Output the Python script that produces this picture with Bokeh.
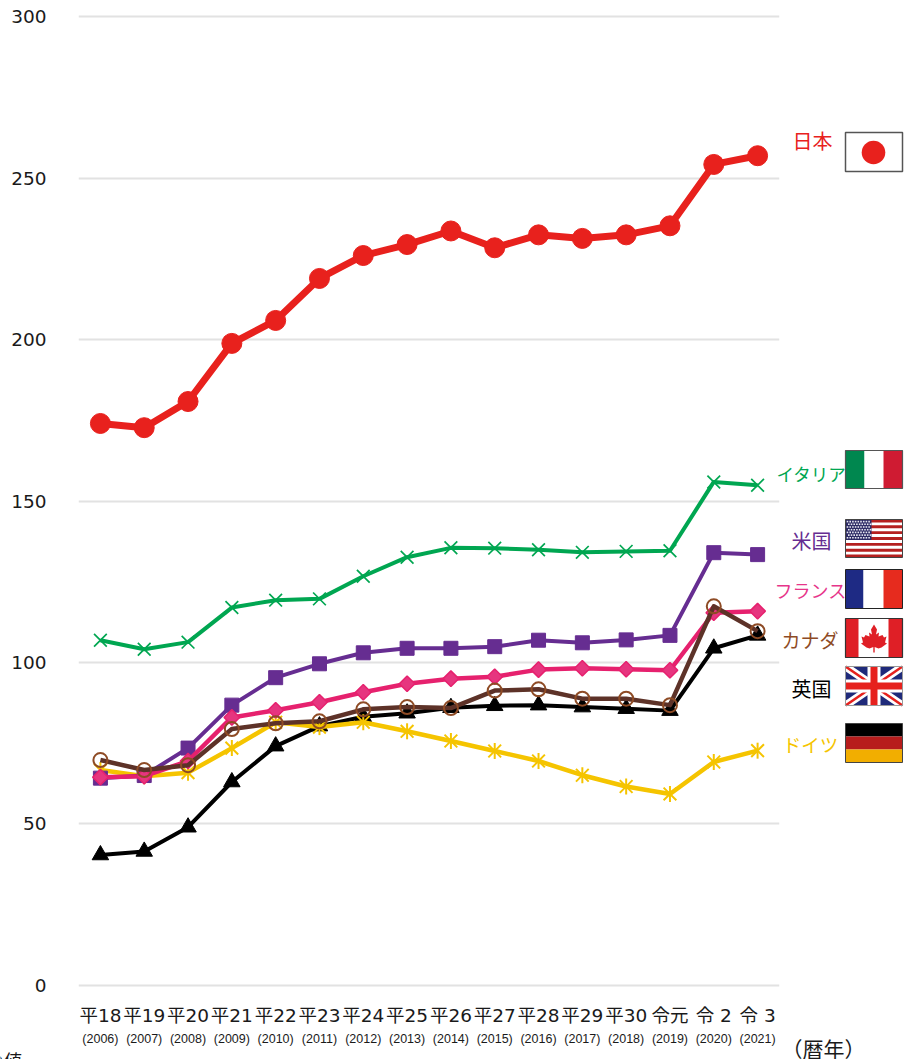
import math
from bokeh.plotting import figure
from bokeh.embed import file_html
from bokeh.resources import INLINE
from bokeh.core.properties import value
from bokeh.models import (FactorRange, Range1d, CategoricalAxis, LinearAxis, FixedTicker, Grid,
                          ColumnDataSource)

reiwa = ["平18","平19","平20","平21","平22","平23","平24","平25","平26","平27","平28","平29","平30","令元","令 2","令 3"]
years = ["(2006)","(2007)","(2008)","(2009)","(2010)","(2011)","(2012)","(2013)","(2014)","(2015)","(2016)","(2017)","(2018)","(2019)","(2020)","(2021)"]
y_ticks = [0, 50, 100, 150, 200, 250, 300]

japan   = [174.0,172.7,180.8,198.8,205.9,218.9,226.0,229.4,233.6,228.4,232.4,231.3,232.4,235.2,254.2,256.9]
italy   = [106.9,104.1,106.3,117.0,119.3,119.7,126.7,132.6,135.5,135.4,134.9,134.1,134.4,134.6,155.9,154.9]
usa     = [64.2,65.0,73.5,86.8,95.3,99.6,103.0,104.4,104.4,104.9,106.9,106.1,107.0,108.4,134.0,133.4]
france  = [64.5,64.8,69.5,83.0,85.2,87.7,90.8,93.4,95.0,95.6,97.8,98.2,97.9,97.6,115.4,115.9]
canada  = [69.8,66.7,68.2,79.4,81.2,81.8,85.5,86.2,85.9,91.3,91.7,88.8,88.8,86.8,117.4,109.7]
uk      = [40.4,41.5,49.0,63.0,74.1,80.3,83.2,84.3,86.0,86.6,86.8,86.2,85.7,85.1,104.4,108.4]
germany = [66.7,64.8,65.9,73.5,81.5,80.0,81.5,78.7,75.7,72.6,69.5,65.1,61.6,59.3,69.2,72.7]

JP = "Noto Sans CJK JP"
MIX = '"DejaVu Sans", "Noto Sans CJK JP"'
ABS = {"position": "absolute", "left": "0px", "top": "0px"}
INK = "#1a1a1a"

p = figure(width=914, height=1059, output_backend="svg", toolbar_location=None,
           x_range=FactorRange(factors=reiwa), y_range=Range1d(-1.86, 301.86),
           min_border_left=78, min_border_right=135, min_border_top=10, min_border_bottom=68,
           outline_line_color=None, x_axis_location=None, y_axis_location=None,
           styles=ABS)
p.extra_x_ranges = {"years": FactorRange(factors=years)}
p.xgrid.visible = False
p.ygrid.visible = False

yax = LinearAxis(ticker=FixedTicker(ticks=y_ticks))
yax.axis_line_color = None
yax.major_tick_line_color = None
yax.minor_tick_line_color = None
yax.major_label_text_font = MIX
yax.major_label_text_font_size = "18.5px"
yax.major_label_text_color = INK
yax.major_label_standoff = 26
p.add_layout(yax, "left")

xax = CategoricalAxis()
xax.axis_line_color = None
xax.major_tick_line_color = None
xax.major_label_text_font = MIX
xax.major_label_text_font_size = "18.5px"
xax.major_label_text_color = INK
xax.major_label_standoff = 7
p.add_layout(xax, "below")

xax2 = CategoricalAxis(x_range_name="years")
xax2.axis_line_color = None
xax2.major_tick_line_color = None
xax2.major_label_text_font = '"Liberation Sans"'
xax2.major_label_text_font_size = "12.5px"
xax2.major_label_text_color = INK
xax2.major_label_standoff = -3
p.add_layout(xax2, "below")

g = Grid(dimension=1, ticker=FixedTicker(ticks=y_ticks))
g.grid_line_color = "#e2e2e2"
g.grid_line_width = 2
p.add_layout(g)

def series(vals, line_color, lw):
    src = ColumnDataSource(dict(x=reiwa, y=vals))
    p.line("x", "y", source=src, line_color=line_color, line_width=lw, line_join="round")
    return src

s = series(uk, "#000000", 4)
p.scatter("x", "y", source=s, marker="triangle", size=16.5, fill_color="#000000", line_color="#000000")
s = series(germany, "#f5c400", 4.5)
p.scatter("x", "y", source=s, marker="x", size=18, line_color="#f5c400", line_width=2, fill_color=None)
p.rect("x", "y", source=s, width=2, height=16, width_units="screen", height_units="screen",
       fill_color="#f5c400", line_color=None)
s = series(usa, "#662d91", 4)
p.scatter("x", "y", source=s, marker="square", size=14, fill_color="#662d91", line_color="#662d91")
s = series(france, "#e6216e", 4.5)
p.scatter("x", "y", source=s, marker="square", angle=math.pi/4, size=11, fill_color="#e6357f",
          line_color="#e6216e", line_width=1.5)
s = series(canada, "#5d3228", 4.5)
p.scatter("x", "y", source=s, marker="circle", size=14, fill_color=None, line_color="#8e4b25", line_width=2)
s = series(italy, "#00a651", 4)
p.scatter("x", "y", source=s, marker="x", size=18, line_color="#00a651", line_width=1.7, fill_color=None)
s = series(japan, "#e8211d", 7)
p.scatter("x", "y", source=s, marker="circle", size=20, fill_color="#e8211d", line_color="#e8211d")

# overlay whose data space is the picture's pixels: flags and country names outside the chart frame
q = figure(width=914, height=1059, output_backend="svg", toolbar_location=None,
           x_range=Range1d(0, 914), y_range=Range1d(1059, 0), min_border=0,
           x_axis_location=None, y_axis_location=None, outline_line_color=None,
           background_fill_alpha=0, border_fill_alpha=0, styles=ABS)
q.xgrid.visible = False
q.ygrid.visible = False

def box(l, r, t, b, color, line=None, lw=1):
    q.quad(left=[l], right=[r], top=[t], bottom=[b], fill_color=color, line_color=line, line_width=lw)

def poly(xs, ys, color):
    q.patch(xs, ys, fill_color=color, line_color=None)

def txt(x, y, t, color, size, font=JP, align="center", base="middle"):
    q.text([x], [y], text=[t], text_color=color, text_font=value(font), text_font_size=value(size),
           text_align=align, text_baseline=base)

L, R = 845, 902
# Japan
box(L, R, 132, 171, "#ffffff", "#555555", 1.5)
q.circle([873], [152], radius=11.8, fill_color="#e8211d", line_color=None)
# Italy
box(L, L+19, 450, 488, "#00874f"); box(L+19, L+38, 450, 488, "#ffffff"); box(L+38, R, 450, 488, "#cf1b32")
box(L, R, 450, 488, None, "#555555", 1.2)
# USA
box(L, R, 519, 557, "#ffffff")
for i in range(7):
    yy = 519 + i * 38 / 6.5
    box(L, R, yy, yy + 2.9, "#b5201f")
box(L, L+26, 519, 539.5, "#2c2a64")
for r_ in range(7):
    for c in range(9):
        box(L+1.2+c*2.7+(r_ % 2)*1.3, L+2.8+c*2.7+(r_ % 2)*1.3, 520.3+r_*2.7, 521.9+r_*2.7, "#e8e8f2")
box(L, R, 519, 557, None, "#444444", 1)
# France
box(L, L+18, 569, 608, "#1e2a84"); box(L+18, L+38, 569, 608, "#ffffff"); box(L+38, R, 569, 608, "#e62b1e")
box(L, R, 569, 608, None, "#222222", 1)
# Canada
box(L, R, 618, 657, "#ffffff")
box(L, L+13, 618, 657, "#df1f26"); box(L+43, R, 618, 657, "#df1f26")
leaf_x = [873.5,870.5,871.5,868.5,869,865,863.5,861,862.5,860.5,866,869,872.8,872.8,874.2,874.2,878,881,886.5,884.5,886,883.5,882,878,878.5,875.5,876.5]
leaf_y = [624,629,634,632,636,634.5,637,636,642,643,647,648,646.5,652,652,646.5,648,647,643,642,636,637,634.5,636,632,634,629]
poly(leaf_x, leaf_y, "#df1f26")
box(L, R, 618, 657, None, "#333333", 1.2)
# UK
T, B = 666, 705
box(L, R, T, B, "#1f2a7a")
def band(x0, y0, x1, y1, w, color):
    dx, dy = x1-x0, y1-y0
    n = math.hypot(dx, dy)
    ox, oy = -dy/n*w/2, dx/n*w/2
    poly([x0+ox, x1+ox, x1-ox, x0-ox], [y0+oy, y1+oy, y1-oy, y0-oy], color)
band(L, T, R, B, 8, "#ffffff"); band(L, B, R, T, 8, "#ffffff")
band(L, T, R, B, 2.6, "#e6211d"); band(L, B, R, T, 2.6, "#e6211d")
box(L+22, L+35, T, B, "#ffffff"); box(L, R, T+13, T+26, "#ffffff")
box(L+25, L+32, T, B, "#e6211d"); box(L, R, T+16, T+23, "#e6211d")
box(L, R, T, B, None, "#999999", 1)
# Germany
box(L, R, 723, 736, "#000000"); box(L, R, 736, 749, "#b71c1c"); box(L, R, 749, 762, "#f2ae00")
box(L, R, 723, 762, None, "#444444", 1)

txt(812, 139.5, "日本", "#e8211d", "20px")
txt(811, 472.5, "イタリア", "#00a651", "17.5px")
txt(811, 539.5, "米国", "#662d91", "20px")
txt(810, 589.5, "フランス", "#e6358a", "18px")
txt(809.5, 638.5, "カナダ", "#8e4b25", "19px")
txt(811, 687.5, "英国", "#000000", "20px")
txt(810, 743.5, "ドイツ", "#f5c400", "18.5px")
txt(823, 1047, "（暦年）", INK, "21px")
txt(3.5, 1059.5, "の値", INK, "18px")

open("out.html", "w").write(file_html([p, q], INLINE))
